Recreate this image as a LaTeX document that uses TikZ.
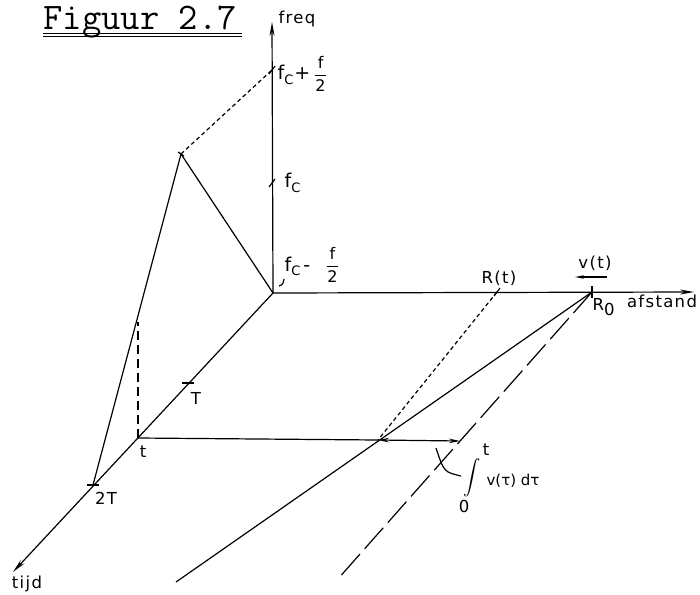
\documentclass[tikz,border=0pt]{standalone}
\usepackage{amsmath}
\usepackage{fontspec}
\newfontfamily\lf[LetterSpace=8]{DejaVu Sans}
\newfontfamily\lfn{DejaVu Sans}
\usetikzlibrary{arrows.meta,calc}
\newcommand{\fcsub}{f\raisebox{-0.45ex}{\fontsize{13}{13}\selectfont C}}
\newcommand{\halff}{\ensuremath{\dfrac{\hbox{\lf\fontsize{16}{16}\selectfont f}}{\hbox{\lf\fontsize{16}{16}\selectfont 2}}}}
\begin{document}
\begin{tikzpicture}[x=1pt,y=-1pt, line width=1.2pt,
  ax/.style={-{Stealth[length=14pt,width=5pt]}},
  lbl/.style={font=\lf\fontsize{16.5}{16.5}\selectfont, inner sep=0pt},
  flbl/.style={font=\lf\fontsize{19}{19}\selectfont, inner sep=0pt},
  sdash/.style={dash pattern=on 4pt off 3pt},
  mdash/.style={dash pattern=on 9pt off 5pt},
  ldash/.style={dash pattern=on 28pt off 7pt},
  tick/.style={line width=1.2pt},
  dbl/.style={{Stealth[length=11pt,width=4.5pt]}-{Stealth[length=11pt,width=4.5pt]}}]
\useasboundingbox (0,0) rectangle (700,594);
% key points
\coordinate (O) at (273,293);
\coordinate (ftop) at (272,22);
\coordinate (aend) at (694,292);
\coordinate (tend) at (13,572);
\coordinate (tp) at (138,438);
\coordinate (tlineend) at (138,322);
\coordinate (Tp) at (189,383);
\coordinate (TT) at (93,485);
\coordinate (apex) at (181,154);
\coordinate (fcp) at (272,70);
\coordinate (fc) at (272,183);
\coordinate (Rt) at (497,292);
\coordinate (R0) at (592,292);
\coordinate (X1) at (378,440);
\coordinate (X2) at (460,441);
\coordinate (S1) at (176,582);
\coordinate (S2) at (337,580);
\coordinate (lead1) at (436,448);
\coordinate (lead2) at (461,476);
\coordinate (va) at (607,277);
\coordinate (vb) at (575,277);
% title
\node[anchor=base west, inner sep=0pt, font=\ttfamily\fontsize{37.5}{40}\selectfont] (title) at (43,30) {Figuur 2.7};
\draw[line width=0.8pt] (43,33.5) -- (242,33.5);
\draw[line width=0.8pt] (43,36) -- (242,36);
% axes
\draw[ax] (O) -- (ftop);
\draw[ax] (O) -- (aend);
\draw[ax] (O) -- (tend);
% ticks on freq axis
\draw[tick] ($(fc)+(-3,4)$) -- ($(fc)+(3,-4)$);
\draw[tick] ($(fcp)+(-3,4)$) -- ($(fcp)+(3,-4)$);
\draw[tick] (279,286) .. controls (283,285) and (284,282) .. (284,279);
% ticks on time axis
\draw[tick] ($(Tp)+(-7,0)$) -- ($(Tp)+(5,0)$);
\draw[tick] ($(TT)+(-6,0)$) -- ($(TT)+(6,0)$);
% ticks on distance axis
\draw[tick] ($(Rt)+(-3,4)$) -- ($(Rt)+(3,-4)$);
\draw[line width=2.5pt] ($(R0)+(0,-6)$) -- ($(R0)+(0,6)$);
% frequency polyline
\draw (TT) -- (apex) -- (O);
\draw[sdash] (apex) -- (fcp);
\draw[tick] ($(apex)+(-3,-2)$) -- ($(apex)+(3,2)$);
\draw[mdash] (tp) -- (tlineend);
% distance lines
\draw (tp) -- (X1);
\draw[dbl] (X1) -- (X2);
\draw (R0) -- (S1);
\draw[ldash] (R0) -- (S2);
\draw[sdash] (Rt) -- (X1);
\draw (lead1) .. controls (444,472) .. (lead2);
\draw[-{Stealth[length=9pt,width=3.5pt]}] (va) -- (vb);
% labels
\node[lbl, anchor=west] (lfreq) at (278,19) {freq};
\node[lbl] (lafst) at (662,301) {afstand};
\node[lbl] (ltijd) at (27,584) {tijd};
\node[lbl] (lRt) at (499,278) {R(t)};
\node[lbl] (lvt) at (595,263) {v(t)};
\node[lbl, anchor=west] (lR0) at (592,307) {R\raisebox{-0.6ex}{0}};
\node[lbl] (lT) at (196,398) {T};
\node[lbl] (lt) at (143,452) {t};
\node[lbl] (l2T) at (106,498) {2T};
\node[flbl, anchor=west] (lfcp) at (277,74) {\fcsub\hspace{1pt}+\hspace{4pt}\halff};
\node[flbl, anchor=west] (lfc) at (284,183) {\fcsub};
\node[flbl, anchor=west] (lfcm) at (284,265) {\fcsub\hspace{3pt}-\hspace{16pt}\halff};
% integral label
\node[lbl] (lup) at (486,450) {t};
\node[inner sep=0pt, font=\fontsize{19}{19}\selectfont] (lint) at (472,478) {$\displaystyle\int$};
\node[lbl] (lzero) at (464,506) {0};
\node[inner sep=0pt, anchor=west, font=\lfn\fontsize{15}{15}\selectfont] (lv) at (486,481) {v(τ) dτ};
\end{tikzpicture}
\end{document}
